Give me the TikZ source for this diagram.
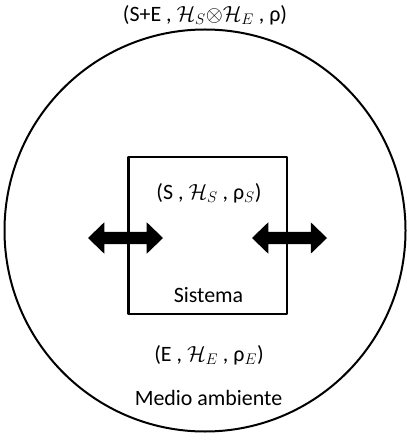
\RequirePackage{fix-cm}
\documentclass[tikz,border=0pt]{standalone}
\usepackage{amsmath,amssymb}
\usepackage{fontspec}
\setmainfont{Carlito}
\usepackage{tikz}
\usetikzlibrary{arrows.meta,shapes.arrows}
\tikzset{
  every picture/.style={line join=round, x=1bp, y=-1bp},
  label/.style={font=\fontsize{22}{26}\selectfont, inner sep=0pt},
  twoway/.style={double arrow, fill=black, draw=none, inner xsep=0pt, inner ysep=6bp,
    minimum height=75bp, double arrow head extend=9.5bp,
    double arrow tip angle=88},
}

\begin{document}
\begin{tikzpicture}
\useasboundingbox (0,0) rectangle (406,442);
\draw[line width=2bp] (205,230.5) ellipse (200.5 and 201);
\draw[line width=2.4bp] (128.5,157) rectangle (287,314);
\node[twoway] (inL) at (125.5,238) {};
\node[twoway] (inR) at (289.5,238) {};
\node[label] (tot) at (205,15) {(S+E , $\mathcal{H}_S$$\otimes$$\mathcal{H}_E$ , ρ)};
\node[label] (sys) at (209,193) {(S , $\mathcal{H}_S$ , ρ$_S$)};
\node[label] (sysname) at (208.5,295) {Sistema};
\node[label] (env) at (209,355) {(E , $\mathcal{H}_E$ , ρ$_E$)};
\node[label] (envname) at (208.5,398) {Medio ambiente};
\end{tikzpicture}
\end{document}
